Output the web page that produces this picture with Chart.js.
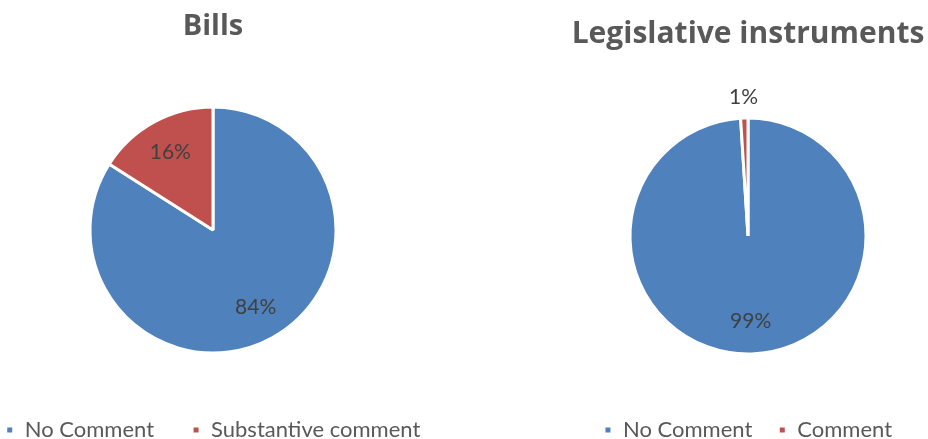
<!DOCTYPE html>
<html lang="en">
<head>
    <meta charset="UTF-8">
    <title>Bills and Legislative instruments</title>
    <style>
        * {
            margin: 0;
            padding: 0;
            box-sizing: border-box;
        }

        body {
            width: 928px;
            height: 439px;
            overflow: hidden;
            background: #fff;
            position: relative;
        }

        .pie-box {
            position: absolute;
            top: 0;
            height: 451px;
        }

        /* boxes are wider than their half so the legend stays on one row */
        #billsBox {
            left: -60px;
            width: 546px;
        }

        #instrBox {
            left: 540px;
            width: 416px;
        }
    </style>
</head>
<body>
    <div class="pie-box" id="billsBox"><canvas id="billsChart"></canvas></div>
    <div class="pie-box" id="instrBox"><canvas id="instrChart"></canvas></div>

    <script src="https://cdn.jsdelivr.net/npm/chart.js"></script>
    <script>
        // data
        var billsLabels = ['No Comment', 'Substantive comment'];
        var billsValues = [84, 16];
        var instrLabels = ['No Comment', 'Comment'];
        var instrValues = [99, 1];
        var sliceColors = ['#4F81BD', '#C0504D'];

        var textGrey = '#595959';

        // percentage labels on each slice
        var pctLabels = {
            id: 'pctLabels',
            afterDatasetsDraw: function (chart) {
                var ctx = chart.ctx;
                var values = chart.data.datasets[0].data;
                var total = values.reduce(function (a, b) { return a + b; }, 0);
                var meta = chart.getDatasetMeta(0);
                ctx.save();
                ctx.font = '21px Lato';
                ctx.fillStyle = '#404040';
                ctx.textAlign = 'center';
                ctx.textBaseline = 'middle';
                meta.data.forEach(function (arc, i) {
                    var p = arc.getProps(['x', 'y', 'startAngle', 'endAngle', 'outerRadius'], true);
                    var mid = (p.startAngle + p.endAngle) / 2;
                    var share = values[i] / total;
                    var d = p.outerRadius * (share < 0.05 ? 1.18 : 0.72);
                    var pct = Math.round(share * 100) + '%';
                    ctx.fillText(pct, p.x + Math.cos(mid) * d, p.y + Math.sin(mid) * d);
                });
                ctx.restore();
            }
        };

        function makePie(id, title, labels, values, radius, titleSize, titlePad, legendPad) {
            var ctx = document.getElementById(id).getContext('2d');
            return new Chart(ctx, {
                type: 'pie',
                data: {
                    labels: labels,
                    datasets: [{
                        data: values,
                        backgroundColor: sliceColors,
                        borderColor: '#fff',
                        borderWidth: 3,
                        radius: radius
                    }]
                },
                options: {
                    responsive: true,
                    maintainAspectRatio: false,
                    animation: false,
                    events: [],
                    plugins: {
                        title: {
                            display: true,
                            text: title,
                            color: textGrey,
                            font: { family: 'Open Sans', size: titleSize, weight: 'bold', lineHeight: 1.2 },
                            padding: titlePad
                        },
                        legend: {
                            position: 'bottom',
                            align: 'center',
                            labels: {
                                color: textGrey,
                                font: { family: 'Lato', size: 22 },
                                boxWidth: 8,
                                boxHeight: 8,
                                padding: legendPad
                            }
                        },
                        tooltip: { enabled: false }
                    }
                },
                plugins: [pctLabels]
            });
        }

        makePie('billsChart', 'Bills', billsLabels, billsValues, 123, 29, { top: 9.6, bottom: 34.6 }, 38);
        makePie('instrChart', 'Legislative instruments', instrLabels, instrValues, 118, 30, { top: 16, bottom: 27 }, 26);
    </script>
</body>
</html>
